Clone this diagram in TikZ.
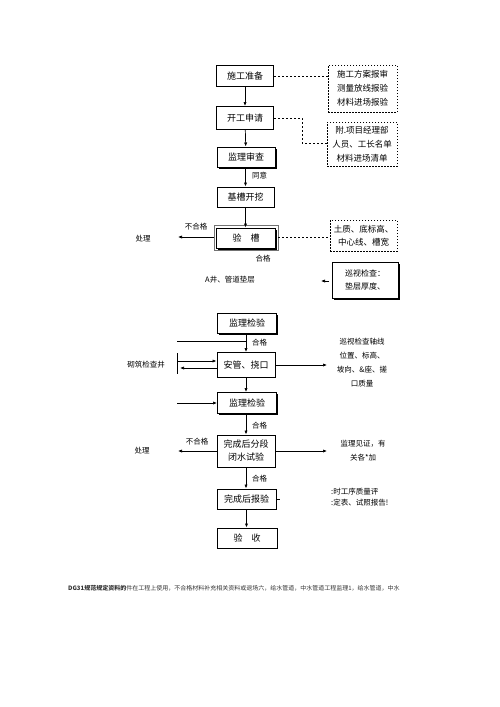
\documentclass[tikz,border=0pt]{standalone}
\usepackage{fontspec}
\setmainfont{Noto Sans CJK SC}
\usetikzlibrary{arrows.meta,shadows}
\tikzset{
  box/.style={draw, line width=1pt, inner sep=1pt, font=\fontsize{9}{11}\selectfont, align=center, fill=white},
  shbox/.style={box, drop shadow={shadow xshift=1.8pt, shadow yshift=-1.8pt, fill=black, opacity=1}},
  dbox/.style={draw, dash pattern=on 1.5pt off 1.5pt, line width=0.8pt, inner sep=1pt, font=\fontsize{8.5}{14}\selectfont, align=center},
  dline/.style={dash pattern=on 2pt off 2pt, line width=0.6pt},
  arr/.style={line width=0.7pt, -{Latex[length=4pt,width=3.2pt]}},
  ln/.style={line width=0.6pt},
  lbl/.style={font=\fontsize{7.5}{9}\selectfont, inner sep=0pt},
  note/.style={font=\fontsize{7.5}{14}\selectfont, inner sep=0pt, align=center}
}
\begin{document}
\begin{tikzpicture}[x=1pt,y=-1pt]
\useasboundingbox (0,0) rectangle (500,707);

% main column
\node[box, minimum width=57pt, minimum height=21pt] (b1) at (245,76) {施工准备};
\node[box, minimum width=57pt, minimum height=23pt] (b2) at (245,118) {开工申请};
\node[shbox, minimum width=58pt, minimum height=20pt] (b3) at (246,157) {监理审查};
\node[box, minimum width=57pt, minimum height=20pt] (b4) at (245.5,197) {基槽开挖};
\node[draw=black!55, line width=0.6pt, minimum width=64pt, minimum height=25pt] (b5o) at (246,237.5) {};
\node[shbox, minimum width=59pt, minimum height=20pt] (b5) at (246,238) {验\quad 槽};
\node[shbox, minimum width=59pt, minimum height=20pt] (b6) at (247,323) {监理检验};
\node[box, minimum width=58pt, minimum height=25pt] (b7) at (246,365) {安管、挠口};
\node[shbox, minimum width=59pt, minimum height=21pt] (b8) at (247,403) {监理检验};
\node[box, minimum width=58pt, minimum height=32pt, font=\fontsize{9}{13}\selectfont] (b9) at (246,451) {完成后分段\\闭水试验};
\node[box, minimum width=59pt, minimum height=20pt] (b10) at (246.5,499) {完成后报验};
\node[box, minimum width=60pt, minimum height=20pt] (b11) at (247,538) {验\quad 收};

% side boxes
\node[dbox, minimum width=69pt, minimum height=47pt] (d1) at (362.5,88.5) {施工方案报审\\测量放线报验\\材料进场报验};
\node[dbox, minimum width=70pt, minimum height=44pt] (d2) at (362,144) {附.项目经理部\\人员、工长名单\\材料进场清单};
\node[dbox, minimum width=67pt, minimum height=31pt, font=\fontsize{8.5}{13}\selectfont] (d3) at (363.5,235.5) {土质、底标高、\\中心线、槽宽};
\node[shbox, line width=0.9pt, minimum width=66pt, minimum height=36pt, font=\fontsize{8}{13}\selectfont] (s1) at (365,280) {巡视检查：\\垫层厚度、};

% vertical arrows
\draw[arr] (b1) -- (b2);
\draw[arr] (b2) -- (b3);
\draw[arr] (b3.south -| b4.north) -- (b4.north);
\draw[arr] (b4.south) -- (b4.south |- b5.north);
\draw[arr] (b6.south -| b7.north) -- (b7.north);
\draw[arr] (b7.south) -- (b7.south |- b8.north);
\draw[arr] (b8.south -| b9.north) -- (b9.north);
\draw[arr] (b9.south) -- (b9.south |- b10.north);
\draw[arr] (b10.south) -- (b10.south |- b11.north);

% dashed connectors
\draw[dline] (b1.east) -- (b1.east -| d1.west);
\coordinate (k2) at (302,143);
\draw[dline] (b2.east) -| (k2) -- (k2 -| d2.west);
\draw[dline] (b5o.east) -- (b5o.east -| d3.west);

% labels
\node[lbl, anchor=west] (t1) at (252,176) {同意};
\node[lbl] (t2) at (263,259) {合格};
\node[lbl] (t3) at (230,280) {A井、管道垫层};
\coordinate (p5) at (178,237);
\draw[arr] (b5o.west |- p5) -- (p5);
\node[lbl] (t4) at (196,227) {不合格};
\node[lbl] (t5) at (143,239) {处理};
\coordinate (p6) at (321,281);
\draw[arr] (329,281) -- (p6);

% lower part
\coordinate (c1) at (177,341);
\draw[ln] (c1) -- (c1 -| b6.south);
\node[lbl, anchor=west] (t6) at (252,343) {合格};
\coordinate (c2) at (177,353);
\coordinate (c3) at (177,374);
\draw[ln] (c2) -- (c3);
\draw[arr] (177,361) -- (b7.west |- 0,361);
\draw[arr] (b7.west |- 0,368) -- (180,368);
\node[lbl] (t7) at (146,365) {砌筑检查井};
\coordinate (c4) at (327,365);
\draw[arr] (b7.east) -- (c4);
\node[note] (t8) at (362,363) {巡视检查轴线\\位置、标高、\\坡向、\&座、搓\\口质量};
\coordinate (c5) at (177,403);
\draw[arr] (c5) -- (b8.west);
\node[lbl, anchor=west] (t9) at (252,426) {合格};
\coordinate (c6) at (178,451);
\draw[arr] (b9.west) -- (c6);
\node[lbl] (t10) at (197,442) {不合格};
\node[lbl] (t11) at (142,451) {处理};
\coordinate (c7) at (327,451);
\draw[arr] (b9.east) -- (c7);
\node[note] (t12) at (363,451) {监理见证，有\\关各*加};
\node[lbl, anchor=west] (t13) at (252,479) {合格};
\coordinate (c8) at (280,499);
\draw[ln] (b10.east) -- (c8);
\node[note, anchor=west, align=left, font=\fontsize{7.5}{11}\selectfont] (t14) at (331,497) {:时工序质量评\\:定表、试照报告!};

% footer
\node[inner sep=0pt, anchor=west, font=\fontsize{6}{7}\selectfont, text=black!80] (f1) at (68,588) {\textbf{DG31规范规定资料的}件在工程上使用，不合格材料补充相关资料或退场六，给水管道，中水管道工程监理1，给水管道，中水};
\end{tikzpicture}
\end{document}
